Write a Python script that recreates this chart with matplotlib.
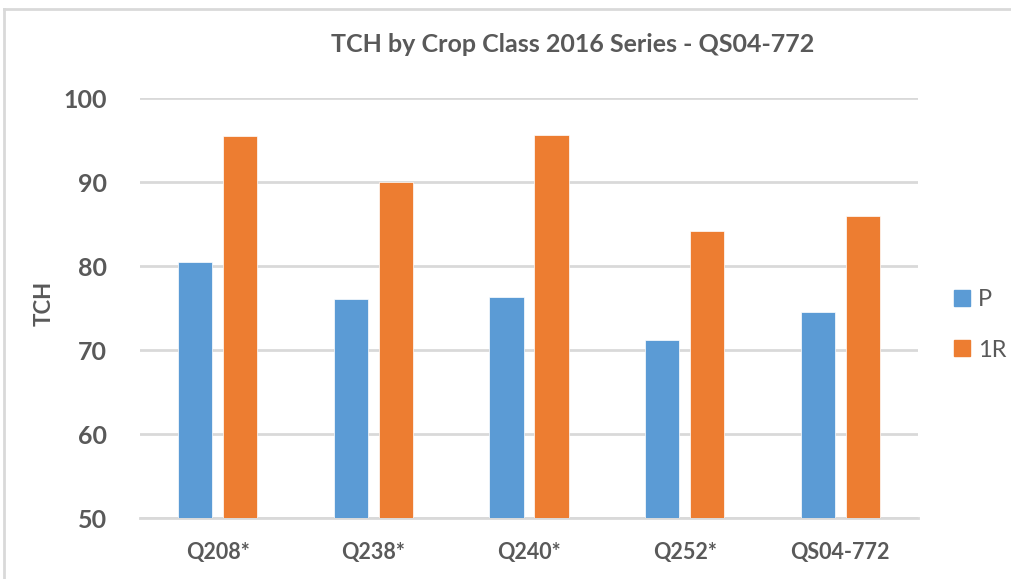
import matplotlib
matplotlib.use('Agg')
import matplotlib.pyplot as plt
from matplotlib.lines import Line2D
import numpy as np

categories = ['Q208*', 'Q238*', 'Q240*', 'Q252*', 'QS04-772']
p_values = [80.5, 76.1, 76.3, 71.2, 74.5]
r1_values = [95.5, 90.0, 95.6, 84.2, 85.9]
series_names = ['P', '1R']
yticks = [50, 60, 70, 80, 90, 100]

blue = '#5B9BD5'
orange = '#ED7D31'
grid_col = '#D9D9D9'
text_col = '#595959'

plt.rcParams['font.family'] = ['Lato', 'DejaVu Sans']

fig = plt.figure(figsize=(10.12, 5.79), dpi=100)
ax = fig.add_axes([140/1012, 61/579, 778/1012, 420/579])

x = np.arange(len(categories))
w = 0.22
ax.bar(x - 0.145, p_values, w, bottom=0, color=blue, edgecolor='white', linewidth=0.5, zorder=3)
ax.bar(x + 0.145, r1_values, w, bottom=0, color=orange, edgecolor='white', linewidth=0.5, zorder=3)

ax.set_xlim(-0.5, len(categories) - 0.5)
ax.set_ylim(50, 100)
ax.set_yticks(yticks)
ax.set_xticks(x)
ax.set_xticklabels(categories)
ax.yaxis.grid(True, color=grid_col, linewidth=2)
ax.set_axisbelow(True)
for s in ['top', 'right', 'left']:
    ax.spines[s].set_visible(False)
ax.spines['bottom'].set_color(grid_col)
ax.spines['bottom'].set_linewidth(2)
ax.tick_params(axis='both', length=0)
ax.tick_params(axis='y', pad=24, labelsize=18, labelcolor=text_col)
ax.tick_params(axis='x', pad=17, labelsize=15.5, labelcolor=text_col)
for lab in ax.get_yticklabels() + ax.get_xticklabels():
    lab.set_fontweight('bold')

fig.text(573/1012, 1 - 45/579, 'TCH by Crop Class 2016 Series - QS04-772',
         ha='center', va='center', fontsize=18, color=text_col, fontweight='bold')
fig.text(44/1012, 1 - 303/579, 'TCH', rotation=90, ha='center', va='center',
         fontsize=16, color=text_col, fontweight='bold')

handles = [Line2D([], [], marker='s', linestyle='none', markersize=11, color=blue),
           Line2D([], [], marker='s', linestyle='none', markersize=11, color=orange)]
fig.legend(handles, series_names, loc='center left', bbox_to_anchor=(950/1012, 1 - 325/579),
           frameon=False, fontsize=17, labelcolor=text_col, handletextpad=0.2,
           labelspacing=1.25, handlelength=1.0, borderpad=0, borderaxespad=0)

# chart area border (top and left only visible)
fig.add_artist(Line2D([4/1012, 1], [1 - 9/579, 1 - 9/579], color=grid_col, linewidth=2))
fig.add_artist(Line2D([4/1012, 4/1012], [0, 1 - 9/579], color=grid_col, linewidth=2))

fig.savefig('out.png', dpi=100)
